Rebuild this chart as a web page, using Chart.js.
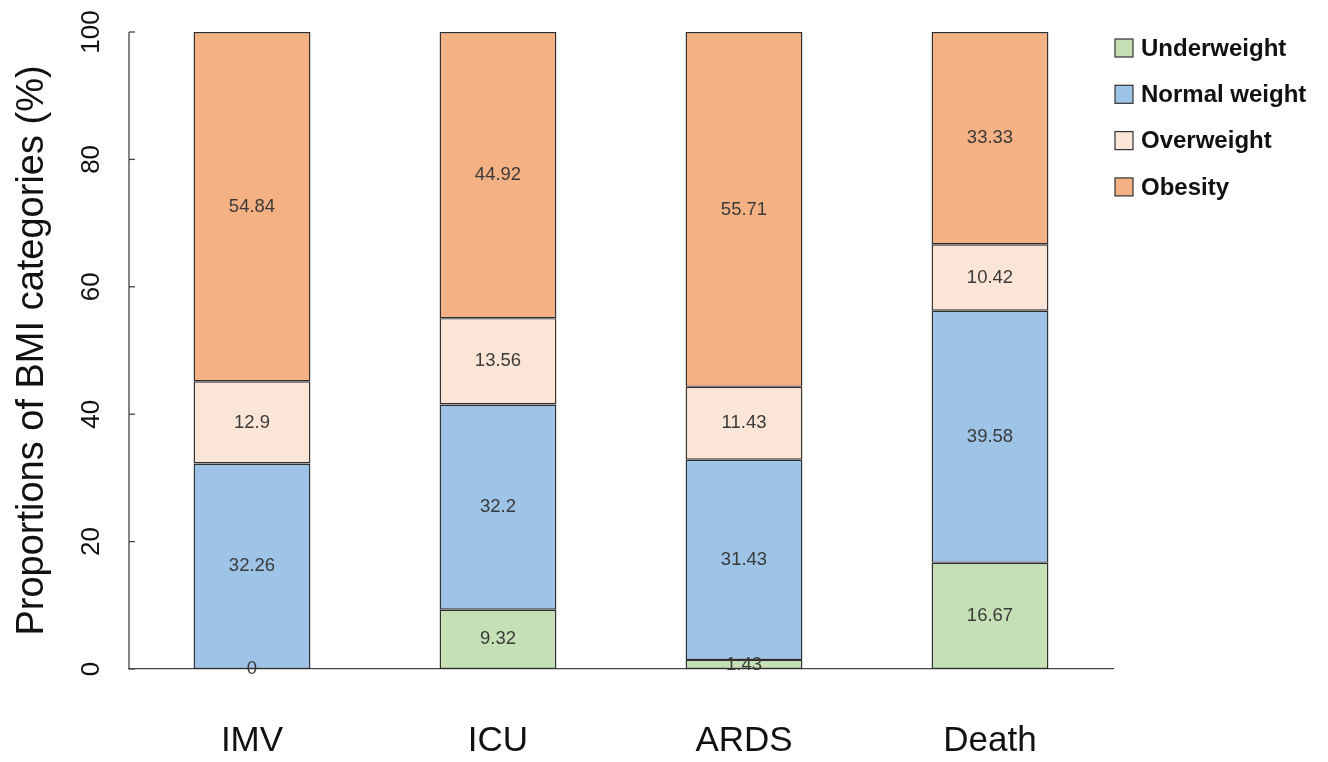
<!DOCTYPE html>
<html>
<head>
<meta charset="utf-8">
<script src="https://cdn.jsdelivr.net/npm/chart.js@4.4.1/dist/chart.umd.min.js"></script>
<style>
html,body{margin:0;padding:0;background:#fff;}
#wrap{width:1328px;height:762px;position:relative;}
</style>
</head>
<body>
<div id="wrap"><canvas id="c" width="1328" height="762"></canvas></div>
<script>
const categories = ["IMV", "ICU", "ARDS", "Death"];
const seriesNames = ["Underweight", "Normal weight", "Overweight", "Obesity"];
const underweight = [0, 9.32, 1.43, 16.67];
const normalWeight = [32.26, 32.2, 31.43, 39.58];
const overweight = [12.9, 13.56, 11.43, 10.42];
const obesity = [54.84, 44.92, 55.71, 33.33];
const yTicks = [0, 20, 40, 60, 80, 100];
const colors = ["#c5e0b4", "#9dc3e6", "#fbe5d6", "#f4b183"];

const FONT = "'Liberation Sans', Arial, Helvetica, sans-serif";

const seriesData = [underweight, normalWeight, overweight, obesity];
const datasets = seriesData.map((d, i) => ({
  label: seriesNames[i],
  data: d,
  backgroundColor: colors[i],
  borderColor: "#2e2e2e",
  borderWidth: 1.4,
  borderSkipped: false,
  barPercentage: 0.95,
  categoryPercentage: 0.5
}));

const customDraw = {
  id: "customDraw",
  afterDatasetsDraw(chart) {
    const ctx = chart.ctx;
    ctx.save();
    ctx.font = "18.5px " + FONT;
    ctx.fillStyle = "#3a3a3a";
    ctx.textAlign = "center";
    ctx.textBaseline = "middle";
    chart.data.datasets.forEach((ds, di) => {
      const meta = chart.getDatasetMeta(di);
      meta.data.forEach((bar, i) => {
        const y = (bar.y + bar.base) / 2;
        ctx.fillText(String(ds.data[i]), bar.x, y);
      });
    });
    ctx.restore();
  },
  afterDraw(chart) {
    const ctx = chart.ctx;
    const ys = chart.scales.y;
    const xs = chart.scales.x;
    ctx.save();
    ctx.strokeStyle = "#444";
    ctx.lineWidth = 1.3;
    const ax = xs.left;
    ctx.beginPath();
    ctx.moveTo(ax, ys.getPixelForValue(0));
    ctx.lineTo(ax, ys.getPixelForValue(100));
    ctx.stroke();
    ctx.font = "26px " + FONT;
    ctx.fillStyle = "#111";
    ctx.textAlign = "center";
    ctx.textBaseline = "middle";
    yTicks.forEach(v => {
      const py = ys.getPixelForValue(v);
      ctx.beginPath();
      ctx.moveTo(ax, py);
      ctx.lineTo(ax + 6, py);
      ctx.stroke();
      ctx.save();
      ctx.translate(92, py);
      ctx.rotate(-Math.PI / 2);
      ctx.fillText(String(v), 0, 0);
      ctx.restore();
    });
    ctx.font = "bold 24px " + FONT;
    ctx.textAlign = "left";
    ctx.textBaseline = "middle";
    seriesNames.forEach((name, i) => {
      const cy = 48 + i * 46.3;
      ctx.fillStyle = colors[i];
      ctx.fillRect(1115, cy - 9, 18, 18);
      ctx.strokeStyle = "#333";
      ctx.lineWidth = 1.2;
      ctx.strokeRect(1115, cy - 9, 18, 18);
      ctx.fillStyle = "#111";
      ctx.fillText(name, 1141, cy + 1);
    });
    ctx.restore();
  }
};

new Chart(document.getElementById("c"), {
  type: "bar",
  data: { labels: categories, datasets: datasets },
  options: {
    responsive: false,
    animation: false,
    devicePixelRatio: 1,
    layout: { padding: { left: 0, top: 32, right: 215, bottom: 0 } },
    plugins: { legend: { display: false }, tooltip: { enabled: false } },
    scales: {
      x: {
        stacked: true,
        grid: { display: false, drawTicks: false },
        border: { display: true, color: "#444", width: 1.3 },
        ticks: { font: { size: 35, family: FONT }, color: "#111", padding: 51 },
        afterFit: s => { s.height = 93; }
      },
      y: {
        stacked: true,
        min: 0,
        max: 100,
        grid: { display: false, drawTicks: false },
        border: { display: false },
        ticks: { display: false, stepSize: 20 },
        title: {
          display: true,
          text: "Proportions of BMI categories (%)",
          font: { size: 38, family: FONT },
          color: "#111",
          padding: { top: 10, bottom: 0 }
        },
        afterFit: s => { s.width = 129; }
      }
    }
  },
  plugins: [customDraw]
});
</script>
</body>
</html>
